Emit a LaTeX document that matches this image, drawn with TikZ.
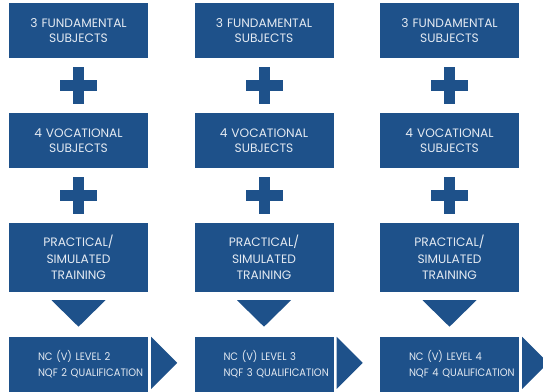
\documentclass[tikz,border=0pt]{standalone}
\usepackage{fontspec}
\setmainfont{Poppins}
\newfontfamily\narrowfont[FakeStretch=0.92]{Poppins}
\usepackage{tikz}
\usetikzlibrary{positioning,calc}
\definecolor{tone}{RGB}{30,81,138}
\definecolor{ink}{RGB}{228,234,242}
\newcommand{\indentline}{\hspace*{29pt}}

\begin{document}
\begin{tikzpicture}[x=1pt,y=-1pt]
\tikzstyle{block}=[fill=tone, text=ink, shape=rectangle, minimum width=139pt, minimum height=55pt, text width=136pt, align=center, inner sep=0pt, font=\fontsize{12.2}{15.5}\selectfont]
\tikzstyle{tall}=[block, minimum height=69pt, font=\fontsize{12.2}{16.5}\selectfont]
\tikzstyle{result}=[block, text width=139pt, align=left, font=\narrowfont\fontsize{10.8}{16}\selectfont]
\useasboundingbox (0,0) rectangle (543,391);

\foreach \c/\lvl in {0/2,1/3,2/4}{
  \pgfmathsetmacro{\x}{78.5+185.5*\c}
  \node[block] (f\c) at (\x,30.5) {3 FUNDAMENTAL\\SUBJECTS};
  \node[block] (v\c) at (\x,140.5) {4 VOCATIONAL\\SUBJECTS};
  \node[tall] (p\c) at (\x,257.5) {PRACTICAL/\\SIMULATED\\TRAINING};
  \node[result] (q\c) at (\x,364.5) {\indentline NC (V) LEVEL \lvl\\\indentline NQF \lvl\ QUALIFICATION};
  % plus signs
  \coordinate (a\c) at ($(f\c.south)!.5!(v\c.north)$);
  \coordinate (b\c) at ($(v\c.south)!.5!(p\c.north)$);
  \foreach \m in {a\c,b\c}{
    \fill[tone] ([xshift=-18.5pt,yshift=-5.5pt]\m) rectangle ([xshift=18.5pt,yshift=5.5pt]\m);
    \fill[tone] ([xshift=-5.5pt,yshift=-18.5pt]\m) rectangle ([xshift=5.5pt,yshift=18.5pt]\m);
  }
  % arrows down and right
  \fill[tone] ([yshift=-8pt]p\c.south) ++(-27pt,0pt) -- ++(54pt,0pt) -- ++(-27pt,-26.5pt) -- cycle;
  \fill[tone] ([xshift=3pt]q\c.north east) -- ++(26pt,-26pt) -- ++(-26pt,-26pt) -- cycle;
}
\end{tikzpicture}
\end{document}
